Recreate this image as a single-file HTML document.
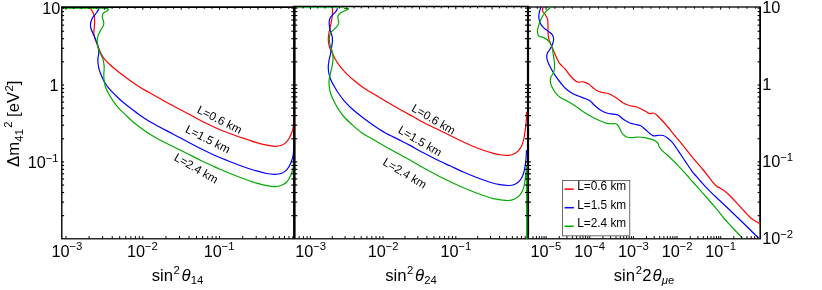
<!DOCTYPE html>
<html><head><meta charset="utf-8"><title>Sensitivity contours</title>
<style>
html,body{margin:0;padding:0;background:#fff;}
body{width:822px;height:290px;overflow:hidden;font-family:"Liberation Sans",sans-serif;}
svg text{font-family:"Liberation Sans",sans-serif;}
svg{will-change:transform;transform:translateZ(0);}
</style></head><body>
<svg width="822" height="290" viewBox="0 0 822 290" style="display:block" font-family="Liberation Sans, sans-serif" fill="#000">
<defs>
<clipPath id="c1"><rect x="61.80" y="7.05" width="232.80" height="231.65"/></clipPath>
<clipPath id="c2"><rect x="294.30" y="6.60" width="234.00" height="232.80"/></clipPath>
<clipPath id="c3"><rect x="528.00" y="6.10" width="232.90" height="233.30"/></clipPath>
</defs>
<line x1="61.10" y1="7.15" x2="294.30" y2="7.15" stroke="#000" stroke-width="1.60"/>
<line x1="293.20" y1="6.60" x2="529.10" y2="6.60" stroke="#000" stroke-width="1.50"/>
<line x1="528.00" y1="7.00" x2="760.90" y2="7.00" stroke="#222" stroke-width="1.35"/>
<line x1="61.10" y1="238.70" x2="760.95" y2="238.70" stroke="#2a2a2a" stroke-width="1.60"/>
<line x1="61.80" y1="7.05" x2="61.80" y2="238.70" stroke="#000" stroke-width="1.40"/>
<line x1="294.30" y1="6.60" x2="294.30" y2="238.70" stroke="#000" stroke-width="2.15"/>
<line x1="528.00" y1="6.60" x2="528.00" y2="238.70" stroke="#000" stroke-width="2.20"/>
<line x1="760.20" y1="7.00" x2="760.20" y2="238.70" stroke="#000" stroke-width="1.50"/>
<g clip-path="url(#c1)">
<path d="M90.30 8.30 C90.67 8.87 91.85 10.45 92.50 11.70 C93.15 12.95 93.83 14.13 94.20 15.80 C94.57 17.47 94.70 19.62 94.70 21.70 C94.70 23.78 94.35 26.37 94.20 28.30 C94.05 30.23 93.67 31.63 93.80 33.30 C93.93 34.97 94.47 36.48 95.00 38.30 C95.53 40.12 96.30 42.38 97.00 44.20 C97.70 46.02 98.57 47.73 99.20 49.20 C99.83 50.67 99.83 51.25 100.80 53.00 C101.77 54.75 103.18 57.48 105.00 59.70 C106.82 61.92 109.20 64.08 111.70 66.30 C114.20 68.52 116.95 70.63 120.00 73.00 C123.05 75.37 126.67 78.13 130.00 80.50 C133.33 82.87 136.67 85.12 140.00 87.20 C143.33 89.28 146.05 90.73 150.00 93.00 C153.95 95.27 159.25 98.35 163.70 100.80 C168.15 103.25 172.32 105.37 176.70 107.70 C181.08 110.03 185.00 112.17 190.00 114.80 C195.00 117.43 201.70 121.02 206.70 123.50 C211.70 125.98 215.57 127.83 220.00 129.70 C224.43 131.57 228.85 133.10 233.30 134.70 C237.75 136.30 242.80 137.97 246.70 139.30 C250.60 140.63 253.37 141.72 256.70 142.70 C260.03 143.68 263.65 144.60 266.70 145.20 C269.75 145.80 272.50 146.30 275.00 146.30 C277.50 146.30 279.75 145.95 281.70 145.20 C283.65 144.45 285.32 143.20 286.70 141.80 C288.08 140.40 289.12 138.47 290.00 136.80 C290.88 135.13 291.45 133.47 292.00 131.80 C292.55 130.13 292.97 129.10 293.30 126.80 C293.63 124.50 293.83 121.63 294.00 118.00 C294.17 114.37 294.25 107.17 294.30 105.00" fill="none" stroke="#ff0000" stroke-width="1.20" stroke-linejoin="round" stroke-linecap="butt"/>
<path d="M99.20 8.30 C98.78 9.00 97.68 11.10 96.70 12.50 C95.72 13.90 94.22 15.32 93.30 16.70 C92.38 18.08 91.67 19.42 91.20 20.80 C90.73 22.18 90.50 23.60 90.50 25.00 C90.50 26.40 90.73 27.67 91.20 29.20 C91.67 30.73 92.53 32.40 93.30 34.20 C94.07 36.00 95.02 38.07 95.80 40.00 C96.58 41.93 97.50 43.72 98.00 45.80 C98.50 47.88 98.80 50.47 98.80 52.50 C98.80 54.53 98.13 56.25 98.00 58.00 C97.87 59.75 97.80 61.05 98.00 63.00 C98.20 64.95 98.58 67.48 99.20 69.70 C99.82 71.92 100.73 74.08 101.70 76.30 C102.67 78.52 103.62 80.77 105.00 83.00 C106.38 85.23 108.20 87.62 110.00 89.70 C111.80 91.78 113.92 93.65 115.80 95.50 C117.68 97.35 118.93 98.77 121.30 100.80 C123.67 102.83 126.88 105.30 130.00 107.70 C133.12 110.10 136.67 112.85 140.00 115.20 C143.33 117.55 146.67 119.80 150.00 121.80 C153.33 123.80 156.12 125.13 160.00 127.20 C163.88 129.27 168.85 131.85 173.30 134.20 C177.75 136.55 182.25 138.95 186.70 141.30 C191.15 143.65 195.57 146.07 200.00 148.30 C204.43 150.53 208.85 152.70 213.30 154.70 C217.75 156.70 222.25 158.50 226.70 160.30 C231.15 162.10 235.57 163.88 240.00 165.50 C244.43 167.12 248.85 168.67 253.30 170.00 C257.75 171.33 263.08 172.78 266.70 173.50 C270.32 174.22 272.50 174.35 275.00 174.30 C277.50 174.25 279.75 173.95 281.70 173.20 C283.65 172.45 285.32 171.20 286.70 169.80 C288.08 168.40 289.08 166.60 290.00 164.80 C290.92 163.00 291.65 160.80 292.20 159.00 C292.75 157.20 293.03 156.33 293.30 154.00 C293.57 151.67 293.72 146.50 293.80 145.00" fill="none" stroke="#0000ff" stroke-width="1.20" stroke-linejoin="round" stroke-linecap="butt"/>
<path d="M104.00 8.40 C104.58 8.43 106.78 8.47 107.50 8.60 C108.22 8.73 108.30 8.83 108.30 9.20 C108.30 9.57 108.18 10.25 107.50 10.80 C106.82 11.35 105.03 11.80 104.20 12.50 C103.37 13.20 102.78 14.03 102.50 15.00 C102.22 15.97 102.30 17.18 102.50 18.30 C102.70 19.42 103.57 20.45 103.70 21.70 C103.83 22.95 103.78 24.42 103.30 25.80 C102.82 27.18 101.63 28.47 100.80 30.00 C99.97 31.53 98.90 33.33 98.30 35.00 C97.70 36.67 97.33 38.33 97.20 40.00 C97.07 41.67 97.25 43.33 97.50 45.00 C97.75 46.67 98.28 48.67 98.70 50.00 C99.12 51.33 99.37 51.67 100.00 53.00 C100.63 54.33 101.87 56.33 102.50 58.00 C103.13 59.67 103.52 61.33 103.80 63.00 C104.08 64.67 104.20 66.05 104.20 68.00 C104.20 69.95 103.80 72.48 103.80 74.70 C103.80 76.92 103.87 79.08 104.20 81.30 C104.53 83.52 105.05 85.92 105.80 88.00 C106.55 90.08 107.50 91.67 108.70 93.80 C109.90 95.93 111.40 98.48 113.00 100.80 C114.60 103.12 116.02 105.17 118.30 107.70 C120.58 110.23 123.92 113.37 126.70 116.00 C129.48 118.63 132.23 121.22 135.00 123.50 C137.77 125.78 140.25 127.57 143.30 129.70 C146.35 131.83 149.97 134.28 153.30 136.30 C156.63 138.32 159.97 140.07 163.30 141.80 C166.63 143.53 169.40 144.78 173.30 146.70 C177.20 148.62 182.25 151.08 186.70 153.30 C191.15 155.52 195.57 157.83 200.00 160.00 C204.43 162.17 209.97 164.75 213.30 166.30 C216.63 167.85 216.67 167.88 220.00 169.30 C223.33 170.72 228.85 173.05 233.30 174.80 C237.75 176.55 242.80 178.40 246.70 179.80 C250.60 181.20 253.37 182.22 256.70 183.20 C260.03 184.18 263.65 185.12 266.70 185.70 C269.75 186.28 272.50 186.77 275.00 186.70 C277.50 186.63 279.75 186.08 281.70 185.30 C283.65 184.52 285.32 183.38 286.70 182.00 C288.08 180.62 289.08 178.75 290.00 177.00 C290.92 175.25 291.65 173.12 292.20 171.50 C292.75 169.88 293.03 169.22 293.30 167.30 C293.57 165.38 293.72 161.22 293.80 160.00" fill="none" stroke="#00aa00" stroke-width="1.20" stroke-linejoin="round" stroke-linecap="butt"/>
<line x1="62.50" y1="8.40" x2="104.50" y2="8.40" stroke="#00aa00" stroke-width="0.90"/>
</g>
<line x1="294.30" y1="6.60" x2="294.30" y2="238.70" stroke="#000" stroke-width="2.15"/>
<g clip-path="url(#c2)">
<path d="M332.50 8.30 C332.50 9.13 332.63 11.35 332.50 13.30 C332.37 15.25 332.03 17.92 331.70 20.00 C331.37 22.08 330.92 23.85 330.50 25.80 C330.08 27.75 329.57 29.62 329.20 31.70 C328.83 33.78 328.37 36.22 328.30 38.30 C328.23 40.38 328.43 42.25 328.80 44.20 C329.17 46.15 329.88 48.45 330.50 50.00 C331.12 51.55 331.75 52.03 332.50 53.50 C333.25 54.97 333.75 56.67 335.00 58.80 C336.25 60.93 338.05 63.80 340.00 66.30 C341.95 68.80 344.20 71.30 346.70 73.80 C349.20 76.30 351.95 78.80 355.00 81.30 C358.05 83.80 361.67 86.57 365.00 88.80 C368.33 91.03 371.67 92.70 375.00 94.70 C378.33 96.70 381.12 98.50 385.00 100.80 C388.88 103.10 393.58 105.83 398.30 108.50 C403.02 111.17 408.52 114.17 413.30 116.80 C418.08 119.43 422.55 122.02 427.00 124.30 C431.45 126.58 435.05 128.08 440.00 130.50 C444.95 132.92 451.70 136.38 456.70 138.80 C461.70 141.22 465.57 143.08 470.00 145.00 C474.43 146.92 479.42 148.92 483.30 150.30 C487.18 151.68 490.23 152.52 493.30 153.30 C496.37 154.08 499.20 154.67 501.70 155.00 C504.20 155.33 506.37 155.43 508.30 155.30 C510.23 155.17 511.63 154.95 513.30 154.20 C514.97 153.45 516.90 152.20 518.30 150.80 C519.70 149.40 520.78 147.73 521.70 145.80 C522.62 143.87 523.25 141.55 523.80 139.20 C524.35 136.85 524.65 134.07 525.00 131.70 C525.35 129.33 525.66 127.45 525.90 125.00 C526.14 122.55 526.34 119.20 526.45 117.00 C526.56 114.80 526.53 112.67 526.55 111.80" fill="none" stroke="#ff0000" stroke-width="1.20" stroke-linejoin="round" stroke-linecap="butt"/>
<path d="M337.50 8.30 C337.22 8.87 336.63 10.58 335.80 11.70 C334.97 12.82 333.47 13.90 332.50 15.00 C331.53 16.10 330.55 17.18 330.00 18.30 C329.45 19.42 329.28 20.30 329.20 21.70 C329.12 23.10 329.28 25.03 329.50 26.70 C329.72 28.37 330.08 30.18 330.50 31.70 C330.92 33.22 331.67 34.28 332.00 35.80 C332.33 37.32 332.55 38.98 332.50 40.80 C332.45 42.62 331.98 44.75 331.70 46.70 C331.42 48.65 331.22 50.33 330.80 52.50 C330.38 54.67 329.62 57.40 329.20 59.70 C328.78 62.00 328.37 64.08 328.30 66.30 C328.23 68.52 328.38 70.77 328.80 73.00 C329.22 75.23 329.90 77.48 330.80 79.70 C331.70 81.92 332.95 84.08 334.20 86.30 C335.45 88.52 336.63 90.58 338.30 93.00 C339.97 95.42 341.97 98.22 344.20 100.80 C346.43 103.38 348.78 105.83 351.70 108.50 C354.62 111.17 358.10 114.02 361.70 116.80 C365.30 119.58 369.42 122.55 373.30 125.20 C377.18 127.85 380.83 130.33 385.00 132.70 C389.17 135.07 394.13 137.28 398.30 139.40 C402.47 141.52 405.83 143.17 410.00 145.40 C414.17 147.63 418.30 150.15 423.30 152.80 C428.30 155.45 435.55 159.13 440.00 161.30 C444.45 163.47 446.12 164.02 450.00 165.80 C453.88 167.58 458.85 170.05 463.30 172.00 C467.75 173.95 472.25 175.80 476.70 177.50 C481.15 179.20 486.12 181.00 490.00 182.20 C493.88 183.40 496.95 184.15 500.00 184.70 C503.05 185.25 505.80 185.58 508.30 185.50 C510.80 185.42 513.05 185.07 515.00 184.20 C516.95 183.33 518.67 181.83 520.00 180.30 C521.33 178.77 522.22 177.00 523.00 175.00 C523.78 173.00 524.22 170.80 524.70 168.30 C525.18 165.80 525.60 163.05 525.90 160.00 C526.20 156.95 526.40 151.67 526.50 150.00" fill="none" stroke="#0000ff" stroke-width="1.20" stroke-linejoin="round" stroke-linecap="butt"/>
<path d="M344.00 8.40 C344.58 8.42 346.78 8.40 347.50 8.50 C348.22 8.60 348.72 8.62 348.30 9.00 C347.88 9.38 346.38 10.08 345.00 10.80 C343.62 11.52 341.20 12.32 340.00 13.30 C338.80 14.28 338.08 15.58 337.80 16.70 C337.52 17.82 338.13 19.03 338.30 20.00 C338.47 20.97 338.93 21.53 338.80 22.50 C338.67 23.47 338.27 24.68 337.50 25.80 C336.73 26.92 335.32 28.08 334.20 29.20 C333.08 30.32 331.58 31.25 330.80 32.50 C330.02 33.75 329.72 35.17 329.50 36.70 C329.28 38.23 329.28 39.90 329.50 41.70 C329.72 43.50 330.30 45.70 330.80 47.50 C331.30 49.30 332.13 50.47 332.50 52.50 C332.87 54.53 333.08 57.40 333.00 59.70 C332.92 62.00 332.42 64.08 332.00 66.30 C331.58 68.52 330.97 70.77 330.50 73.00 C330.03 75.23 329.42 77.48 329.20 79.70 C328.98 81.92 328.98 84.08 329.20 86.30 C329.42 88.52 329.75 90.58 330.50 93.00 C331.25 95.42 332.53 98.35 333.70 100.80 C334.87 103.25 335.90 105.17 337.50 107.70 C339.10 110.23 340.93 113.23 343.30 116.00 C345.67 118.77 348.63 121.52 351.70 124.30 C354.77 127.08 357.90 130.05 361.70 132.70 C365.50 135.35 370.78 138.03 374.50 140.20 C378.22 142.37 381.42 144.20 384.00 145.70 C386.58 147.20 386.22 147.10 390.00 149.20 C393.78 151.30 401.15 155.20 406.70 158.30 C412.25 161.40 417.75 164.73 423.30 167.80 C428.85 170.87 434.43 173.88 440.00 176.70 C445.57 179.52 451.70 182.40 456.70 184.70 C461.70 187.00 465.57 188.70 470.00 190.50 C474.43 192.30 479.42 194.13 483.30 195.50 C487.18 196.87 490.23 197.95 493.30 198.70 C496.37 199.45 499.20 199.70 501.70 200.00 C504.20 200.30 506.22 200.63 508.30 200.50 C510.38 200.37 512.38 199.98 514.20 199.20 C516.02 198.42 517.82 197.20 519.20 195.80 C520.58 194.40 521.65 192.60 522.50 190.80 C523.35 189.00 523.80 187.35 524.30 185.00 C524.80 182.65 525.13 179.53 525.50 176.70 C525.87 173.87 526.33 169.45 526.50 168.00" fill="none" stroke="#00aa00" stroke-width="1.20" stroke-linejoin="round" stroke-linecap="butt"/>
<line x1="295.40" y1="7.65" x2="344.50" y2="7.65" stroke="#00aa00" stroke-width="0.80"/>
<line x1="526.80" y1="166.00" x2="526.80" y2="239.40" stroke="#00aa00" stroke-width="1.40"/>
</g>
<g clip-path="url(#c3)">
<path d="M543.00 7.00 C542.92 7.63 542.17 9.60 542.50 10.80 C542.83 12.00 544.17 12.80 545.00 14.20 C545.83 15.60 547.00 17.40 547.50 19.20 C548.00 21.00 547.92 22.92 548.00 25.00 C548.08 27.08 547.88 29.48 548.00 31.70 C548.12 33.92 548.23 36.22 548.70 38.30 C549.17 40.38 550.08 42.38 550.80 44.20 C551.52 46.02 552.38 47.73 553.00 49.20 C553.62 50.67 553.88 51.53 554.50 53.00 C555.12 54.47 555.78 56.20 556.70 58.00 C557.62 59.80 558.62 62.00 560.00 63.80 C561.38 65.60 563.33 66.85 565.00 68.80 C566.67 70.75 568.33 73.55 570.00 75.50 C571.67 77.45 573.62 79.38 575.00 80.50 C576.38 81.62 576.92 81.98 578.30 82.20 C579.68 82.42 581.63 81.53 583.30 81.80 C584.97 82.07 586.63 82.77 588.30 83.80 C589.97 84.83 591.63 86.75 593.30 88.00 C594.97 89.25 596.63 90.52 598.30 91.30 C599.97 92.08 601.63 92.33 603.30 92.70 C604.97 93.07 606.63 92.95 608.30 93.50 C609.97 94.05 611.63 95.05 613.30 96.00 C614.97 96.95 616.63 98.03 618.30 99.20 C619.97 100.37 621.35 101.90 623.30 103.00 C625.25 104.10 627.77 105.13 630.00 105.80 C632.23 106.47 634.75 106.43 636.70 107.00 C638.65 107.57 640.03 108.37 641.70 109.20 C643.37 110.03 645.32 111.25 646.70 112.00 C648.08 112.75 648.90 113.53 650.00 113.70 C651.10 113.87 652.18 112.78 653.30 113.00 C654.42 113.22 655.30 113.83 656.70 115.00 C658.10 116.17 659.77 117.92 661.70 120.00 C663.63 122.08 666.08 124.87 668.30 127.50 C670.52 130.13 672.50 132.75 675.00 135.80 C677.50 138.85 680.25 142.05 683.30 145.80 C686.35 149.55 689.97 154.27 693.30 158.30 C696.63 162.33 700.23 166.25 703.30 170.00 C706.37 173.75 709.47 178.08 711.70 180.80 C713.93 183.52 715.32 185.10 716.70 186.30 C718.08 187.50 718.62 187.17 720.00 188.00 C721.38 188.83 723.05 189.72 725.00 191.30 C726.95 192.88 729.48 195.27 731.70 197.50 C733.92 199.73 736.08 202.28 738.30 204.70 C740.52 207.12 742.92 209.78 745.00 212.00 C747.08 214.22 749.00 216.45 750.80 218.00 C752.60 219.55 754.55 220.50 755.80 221.30 C757.05 222.10 757.57 222.27 758.30 222.80 C759.03 223.33 759.88 224.22 760.20 224.50" fill="none" stroke="#ff0000" stroke-width="1.20" stroke-linejoin="round" stroke-linecap="butt"/>
<path d="M540.80 7.00 C540.58 7.78 539.83 10.08 539.50 11.70 C539.17 13.32 538.77 15.03 538.80 16.70 C538.83 18.37 539.08 20.03 539.70 21.70 C540.32 23.37 541.20 25.18 542.50 26.70 C543.80 28.22 545.88 29.47 547.50 30.80 C549.12 32.13 551.17 33.30 552.20 34.70 C553.23 36.10 553.65 37.62 553.70 39.20 C553.75 40.78 553.12 42.53 552.50 44.20 C551.88 45.87 550.83 47.77 550.00 49.20 C549.17 50.63 548.05 51.47 547.50 52.80 C546.95 54.13 546.57 55.50 546.70 57.20 C546.83 58.90 547.47 60.92 548.30 63.00 C549.13 65.08 550.45 67.48 551.70 69.70 C552.95 71.92 554.28 74.08 555.80 76.30 C557.32 78.52 559.13 80.92 560.80 83.00 C562.47 85.08 563.98 87.13 565.80 88.80 C567.62 90.47 569.62 91.80 571.70 93.00 C573.78 94.20 576.08 95.08 578.30 96.00 C580.52 96.92 583.05 97.70 585.00 98.50 C586.95 99.30 588.47 99.72 590.00 100.80 C591.53 101.88 592.53 103.52 594.20 105.00 C595.87 106.48 597.92 108.37 600.00 109.70 C602.08 111.03 604.48 112.25 606.70 113.00 C608.92 113.75 611.37 113.82 613.30 114.20 C615.23 114.58 616.63 114.47 618.30 115.30 C619.97 116.13 621.35 117.92 623.30 119.20 C625.25 120.48 627.77 122.08 630.00 123.00 C632.23 123.92 634.90 124.23 636.70 124.70 C638.50 125.17 639.42 125.05 640.80 125.80 C642.18 126.55 643.47 127.88 645.00 129.20 C646.53 130.52 648.62 132.60 650.00 133.70 C651.38 134.80 651.92 135.53 653.30 135.80 C654.68 136.07 656.63 135.35 658.30 135.30 C659.97 135.25 661.77 135.05 663.30 135.50 C664.83 135.95 665.97 136.82 667.50 138.00 C669.03 139.18 670.70 140.47 672.50 142.60 C674.30 144.73 676.22 147.77 678.30 150.80 C680.38 153.83 682.77 157.47 685.00 160.80 C687.23 164.13 689.75 168.15 691.70 170.80 C693.65 173.45 695.03 174.75 696.70 176.70 C698.37 178.65 699.48 180.07 701.70 182.50 C703.92 184.93 706.95 188.25 710.00 191.30 C713.05 194.35 716.67 197.63 720.00 200.80 C723.33 203.97 726.95 207.38 730.00 210.30 C733.05 213.22 736.13 216.22 738.30 218.30 C740.47 220.38 739.60 219.47 743.00 222.80 C746.40 226.13 756.08 235.72 758.70 238.30" fill="none" stroke="#0000ff" stroke-width="1.20" stroke-linejoin="round" stroke-linecap="butt"/>
<path d="M550.80 7.00 C550.12 7.63 547.95 9.47 546.70 10.80 C545.45 12.13 544.37 13.33 543.30 15.00 C542.23 16.67 541.13 18.85 540.30 20.80 C539.47 22.75 538.77 24.88 538.30 26.70 C537.83 28.52 537.43 30.18 537.50 31.70 C537.57 33.22 537.73 34.83 538.70 35.80 C539.67 36.77 541.83 36.80 543.30 37.50 C544.77 38.20 546.25 38.88 547.50 40.00 C548.75 41.12 549.97 42.67 550.80 44.20 C551.63 45.73 552.13 47.73 552.50 49.20 C552.87 50.67 552.78 51.53 553.00 53.00 C553.22 54.47 553.55 56.33 553.80 58.00 C554.05 59.67 554.38 61.20 554.50 63.00 C554.62 64.80 554.70 67.13 554.50 68.80 C554.30 70.47 553.92 71.60 553.30 73.00 C552.68 74.40 551.30 75.82 550.80 77.20 C550.30 78.58 550.15 79.78 550.30 81.30 C550.45 82.82 550.92 84.48 551.70 86.30 C552.48 88.12 553.62 90.37 555.00 92.20 C556.38 94.03 558.05 95.87 560.00 97.30 C561.95 98.73 564.20 99.38 566.70 100.80 C569.20 102.22 572.23 103.98 575.00 105.80 C577.77 107.62 580.52 109.88 583.30 111.70 C586.08 113.52 588.92 115.18 591.70 116.70 C594.48 118.22 597.50 119.70 600.00 120.80 C602.50 121.90 604.75 122.80 606.70 123.30 C608.65 123.80 610.18 123.73 611.70 123.80 C613.22 123.87 614.70 123.37 615.80 123.70 C616.90 124.03 617.47 124.62 618.30 125.80 C619.13 126.98 619.97 129.32 620.80 130.80 C621.63 132.28 622.32 133.67 623.30 134.70 C624.28 135.73 625.30 136.52 626.70 137.00 C628.10 137.48 629.77 137.60 631.70 137.60 C633.63 137.60 636.08 137.00 638.30 137.00 C640.52 137.00 642.77 137.20 645.00 137.60 C647.23 138.00 650.03 138.87 651.70 139.40 C653.37 139.93 653.95 140.15 655.00 140.80 C656.05 141.45 657.30 142.32 658.00 143.30 C658.70 144.28 658.45 145.45 659.20 146.70 C659.95 147.95 660.70 149.00 662.50 150.80 C664.30 152.60 667.37 155.00 670.00 157.50 C672.63 160.00 675.52 162.88 678.30 165.80 C681.08 168.72 684.20 172.22 686.70 175.00 C689.20 177.78 689.97 178.75 693.30 182.50 C696.63 186.25 702.80 193.05 706.70 197.50 C710.60 201.95 713.93 205.87 716.70 209.20 C719.47 212.53 721.42 215.23 723.30 217.50 C725.18 219.77 724.78 219.33 728.00 222.80 C731.22 226.27 740.17 235.72 742.60 238.30" fill="none" stroke="#00aa00" stroke-width="1.20" stroke-linejoin="round" stroke-linecap="butt"/>
</g>
<line x1="760.20" y1="7.00" x2="760.20" y2="222.00" stroke="#000" stroke-width="1.50"/>
<line x1="61.80" y1="215.65" x2="64.10" y2="215.65" stroke="#000" stroke-width="1.15"/>
<line x1="61.80" y1="202.11" x2="64.10" y2="202.11" stroke="#000" stroke-width="1.15"/>
<line x1="61.80" y1="192.50" x2="64.10" y2="192.50" stroke="#000" stroke-width="1.15"/>
<line x1="61.80" y1="185.05" x2="64.10" y2="185.05" stroke="#000" stroke-width="1.15"/>
<line x1="61.80" y1="178.96" x2="64.10" y2="178.96" stroke="#000" stroke-width="1.15"/>
<line x1="61.80" y1="173.81" x2="64.10" y2="173.81" stroke="#000" stroke-width="1.15"/>
<line x1="61.80" y1="169.35" x2="64.10" y2="169.35" stroke="#000" stroke-width="1.15"/>
<line x1="61.80" y1="165.42" x2="64.10" y2="165.42" stroke="#000" stroke-width="1.15"/>
<line x1="61.80" y1="161.90" x2="64.10" y2="161.90" stroke="#000" stroke-width="1.15"/>
<line x1="61.80" y1="138.75" x2="64.10" y2="138.75" stroke="#000" stroke-width="1.15"/>
<line x1="61.80" y1="125.21" x2="64.10" y2="125.21" stroke="#000" stroke-width="1.15"/>
<line x1="61.80" y1="115.60" x2="64.10" y2="115.60" stroke="#000" stroke-width="1.15"/>
<line x1="61.80" y1="108.15" x2="64.10" y2="108.15" stroke="#000" stroke-width="1.15"/>
<line x1="61.80" y1="102.06" x2="64.10" y2="102.06" stroke="#000" stroke-width="1.15"/>
<line x1="61.80" y1="96.91" x2="64.10" y2="96.91" stroke="#000" stroke-width="1.15"/>
<line x1="61.80" y1="92.45" x2="64.10" y2="92.45" stroke="#000" stroke-width="1.15"/>
<line x1="61.80" y1="88.52" x2="64.10" y2="88.52" stroke="#000" stroke-width="1.15"/>
<line x1="61.80" y1="85.00" x2="64.10" y2="85.00" stroke="#000" stroke-width="1.15"/>
<line x1="61.80" y1="61.85" x2="64.10" y2="61.85" stroke="#000" stroke-width="1.15"/>
<line x1="61.80" y1="48.31" x2="64.10" y2="48.31" stroke="#000" stroke-width="1.15"/>
<line x1="61.80" y1="38.70" x2="64.10" y2="38.70" stroke="#000" stroke-width="1.15"/>
<line x1="61.80" y1="31.25" x2="64.10" y2="31.25" stroke="#000" stroke-width="1.15"/>
<line x1="61.80" y1="25.16" x2="64.10" y2="25.16" stroke="#000" stroke-width="1.15"/>
<line x1="61.80" y1="20.01" x2="64.10" y2="20.01" stroke="#000" stroke-width="1.15"/>
<line x1="61.80" y1="15.55" x2="64.10" y2="15.55" stroke="#000" stroke-width="1.15"/>
<line x1="61.80" y1="11.62" x2="64.10" y2="11.62" stroke="#000" stroke-width="1.15"/>
<line x1="61.80" y1="8.10" x2="64.10" y2="8.10" stroke="#000" stroke-width="1.15"/>
<line x1="294.30" y1="215.65" x2="291.30" y2="215.65" stroke="#000" stroke-width="1.15"/>
<line x1="294.30" y1="202.11" x2="291.30" y2="202.11" stroke="#000" stroke-width="1.15"/>
<line x1="294.30" y1="192.50" x2="291.30" y2="192.50" stroke="#000" stroke-width="1.15"/>
<line x1="294.30" y1="185.05" x2="291.30" y2="185.05" stroke="#000" stroke-width="1.15"/>
<line x1="294.30" y1="178.96" x2="291.30" y2="178.96" stroke="#000" stroke-width="1.15"/>
<line x1="294.30" y1="173.81" x2="291.30" y2="173.81" stroke="#000" stroke-width="1.15"/>
<line x1="294.30" y1="169.35" x2="291.30" y2="169.35" stroke="#000" stroke-width="1.15"/>
<line x1="294.30" y1="165.42" x2="291.30" y2="165.42" stroke="#000" stroke-width="1.15"/>
<line x1="294.30" y1="161.90" x2="291.30" y2="161.90" stroke="#000" stroke-width="1.15"/>
<line x1="294.30" y1="138.75" x2="291.30" y2="138.75" stroke="#000" stroke-width="1.15"/>
<line x1="294.30" y1="125.21" x2="291.30" y2="125.21" stroke="#000" stroke-width="1.15"/>
<line x1="294.30" y1="115.60" x2="291.30" y2="115.60" stroke="#000" stroke-width="1.15"/>
<line x1="294.30" y1="108.15" x2="291.30" y2="108.15" stroke="#000" stroke-width="1.15"/>
<line x1="294.30" y1="102.06" x2="291.30" y2="102.06" stroke="#000" stroke-width="1.15"/>
<line x1="294.30" y1="96.91" x2="291.30" y2="96.91" stroke="#000" stroke-width="1.15"/>
<line x1="294.30" y1="92.45" x2="291.30" y2="92.45" stroke="#000" stroke-width="1.15"/>
<line x1="294.30" y1="88.52" x2="291.30" y2="88.52" stroke="#000" stroke-width="1.15"/>
<line x1="294.30" y1="85.00" x2="291.30" y2="85.00" stroke="#000" stroke-width="1.15"/>
<line x1="294.30" y1="61.85" x2="291.30" y2="61.85" stroke="#000" stroke-width="1.15"/>
<line x1="294.30" y1="48.31" x2="291.30" y2="48.31" stroke="#000" stroke-width="1.15"/>
<line x1="294.30" y1="38.70" x2="291.30" y2="38.70" stroke="#000" stroke-width="1.15"/>
<line x1="294.30" y1="31.25" x2="291.30" y2="31.25" stroke="#000" stroke-width="1.15"/>
<line x1="294.30" y1="25.16" x2="291.30" y2="25.16" stroke="#000" stroke-width="1.15"/>
<line x1="294.30" y1="20.01" x2="291.30" y2="20.01" stroke="#000" stroke-width="1.15"/>
<line x1="294.30" y1="15.55" x2="291.30" y2="15.55" stroke="#000" stroke-width="1.15"/>
<line x1="294.30" y1="11.62" x2="291.30" y2="11.62" stroke="#000" stroke-width="1.15"/>
<line x1="294.30" y1="8.10" x2="291.30" y2="8.10" stroke="#000" stroke-width="1.15"/>
<line x1="294.30" y1="215.65" x2="297.30" y2="215.65" stroke="#000" stroke-width="1.15"/>
<line x1="294.30" y1="202.11" x2="297.30" y2="202.11" stroke="#000" stroke-width="1.15"/>
<line x1="294.30" y1="192.50" x2="297.30" y2="192.50" stroke="#000" stroke-width="1.15"/>
<line x1="294.30" y1="185.05" x2="297.30" y2="185.05" stroke="#000" stroke-width="1.15"/>
<line x1="294.30" y1="178.96" x2="297.30" y2="178.96" stroke="#000" stroke-width="1.15"/>
<line x1="294.30" y1="173.81" x2="297.30" y2="173.81" stroke="#000" stroke-width="1.15"/>
<line x1="294.30" y1="169.35" x2="297.30" y2="169.35" stroke="#000" stroke-width="1.15"/>
<line x1="294.30" y1="165.42" x2="297.30" y2="165.42" stroke="#000" stroke-width="1.15"/>
<line x1="294.30" y1="161.90" x2="297.30" y2="161.90" stroke="#000" stroke-width="1.15"/>
<line x1="294.30" y1="138.75" x2="297.30" y2="138.75" stroke="#000" stroke-width="1.15"/>
<line x1="294.30" y1="125.21" x2="297.30" y2="125.21" stroke="#000" stroke-width="1.15"/>
<line x1="294.30" y1="115.60" x2="297.30" y2="115.60" stroke="#000" stroke-width="1.15"/>
<line x1="294.30" y1="108.15" x2="297.30" y2="108.15" stroke="#000" stroke-width="1.15"/>
<line x1="294.30" y1="102.06" x2="297.30" y2="102.06" stroke="#000" stroke-width="1.15"/>
<line x1="294.30" y1="96.91" x2="297.30" y2="96.91" stroke="#000" stroke-width="1.15"/>
<line x1="294.30" y1="92.45" x2="297.30" y2="92.45" stroke="#000" stroke-width="1.15"/>
<line x1="294.30" y1="88.52" x2="297.30" y2="88.52" stroke="#000" stroke-width="1.15"/>
<line x1="294.30" y1="85.00" x2="297.30" y2="85.00" stroke="#000" stroke-width="1.15"/>
<line x1="294.30" y1="61.85" x2="297.30" y2="61.85" stroke="#000" stroke-width="1.15"/>
<line x1="294.30" y1="48.31" x2="297.30" y2="48.31" stroke="#000" stroke-width="1.15"/>
<line x1="294.30" y1="38.70" x2="297.30" y2="38.70" stroke="#000" stroke-width="1.15"/>
<line x1="294.30" y1="31.25" x2="297.30" y2="31.25" stroke="#000" stroke-width="1.15"/>
<line x1="294.30" y1="25.16" x2="297.30" y2="25.16" stroke="#000" stroke-width="1.15"/>
<line x1="294.30" y1="20.01" x2="297.30" y2="20.01" stroke="#000" stroke-width="1.15"/>
<line x1="294.30" y1="15.55" x2="297.30" y2="15.55" stroke="#000" stroke-width="1.15"/>
<line x1="294.30" y1="11.62" x2="297.30" y2="11.62" stroke="#000" stroke-width="1.15"/>
<line x1="294.30" y1="8.10" x2="297.30" y2="8.10" stroke="#000" stroke-width="1.15"/>
<line x1="528.00" y1="215.65" x2="525.00" y2="215.65" stroke="#000" stroke-width="1.15"/>
<line x1="528.00" y1="202.11" x2="525.00" y2="202.11" stroke="#000" stroke-width="1.15"/>
<line x1="528.00" y1="192.50" x2="525.00" y2="192.50" stroke="#000" stroke-width="1.15"/>
<line x1="528.00" y1="185.05" x2="525.00" y2="185.05" stroke="#000" stroke-width="1.15"/>
<line x1="528.00" y1="178.96" x2="525.00" y2="178.96" stroke="#000" stroke-width="1.15"/>
<line x1="528.00" y1="173.81" x2="525.00" y2="173.81" stroke="#000" stroke-width="1.15"/>
<line x1="528.00" y1="169.35" x2="525.00" y2="169.35" stroke="#000" stroke-width="1.15"/>
<line x1="528.00" y1="165.42" x2="525.00" y2="165.42" stroke="#000" stroke-width="1.15"/>
<line x1="528.00" y1="161.90" x2="525.00" y2="161.90" stroke="#000" stroke-width="1.15"/>
<line x1="528.00" y1="138.75" x2="525.00" y2="138.75" stroke="#000" stroke-width="1.15"/>
<line x1="528.00" y1="125.21" x2="525.00" y2="125.21" stroke="#000" stroke-width="1.15"/>
<line x1="528.00" y1="115.60" x2="525.00" y2="115.60" stroke="#000" stroke-width="1.15"/>
<line x1="528.00" y1="108.15" x2="525.00" y2="108.15" stroke="#000" stroke-width="1.15"/>
<line x1="528.00" y1="102.06" x2="525.00" y2="102.06" stroke="#000" stroke-width="1.15"/>
<line x1="528.00" y1="96.91" x2="525.00" y2="96.91" stroke="#000" stroke-width="1.15"/>
<line x1="528.00" y1="92.45" x2="525.00" y2="92.45" stroke="#000" stroke-width="1.15"/>
<line x1="528.00" y1="88.52" x2="525.00" y2="88.52" stroke="#000" stroke-width="1.15"/>
<line x1="528.00" y1="85.00" x2="525.00" y2="85.00" stroke="#000" stroke-width="1.15"/>
<line x1="528.00" y1="61.85" x2="525.00" y2="61.85" stroke="#000" stroke-width="1.15"/>
<line x1="528.00" y1="48.31" x2="525.00" y2="48.31" stroke="#000" stroke-width="1.15"/>
<line x1="528.00" y1="38.70" x2="525.00" y2="38.70" stroke="#000" stroke-width="1.15"/>
<line x1="528.00" y1="31.25" x2="525.00" y2="31.25" stroke="#000" stroke-width="1.15"/>
<line x1="528.00" y1="25.16" x2="525.00" y2="25.16" stroke="#000" stroke-width="1.15"/>
<line x1="528.00" y1="20.01" x2="525.00" y2="20.01" stroke="#000" stroke-width="1.15"/>
<line x1="528.00" y1="15.55" x2="525.00" y2="15.55" stroke="#000" stroke-width="1.15"/>
<line x1="528.00" y1="11.62" x2="525.00" y2="11.62" stroke="#000" stroke-width="1.15"/>
<line x1="528.00" y1="8.10" x2="525.00" y2="8.10" stroke="#000" stroke-width="1.15"/>
<line x1="528.00" y1="215.65" x2="531.00" y2="215.65" stroke="#000" stroke-width="1.15"/>
<line x1="528.00" y1="202.11" x2="531.00" y2="202.11" stroke="#000" stroke-width="1.15"/>
<line x1="528.00" y1="192.50" x2="531.00" y2="192.50" stroke="#000" stroke-width="1.15"/>
<line x1="528.00" y1="185.05" x2="531.00" y2="185.05" stroke="#000" stroke-width="1.15"/>
<line x1="528.00" y1="178.96" x2="531.00" y2="178.96" stroke="#000" stroke-width="1.15"/>
<line x1="528.00" y1="173.81" x2="531.00" y2="173.81" stroke="#000" stroke-width="1.15"/>
<line x1="528.00" y1="169.35" x2="531.00" y2="169.35" stroke="#000" stroke-width="1.15"/>
<line x1="528.00" y1="165.42" x2="531.00" y2="165.42" stroke="#000" stroke-width="1.15"/>
<line x1="528.00" y1="161.90" x2="531.00" y2="161.90" stroke="#000" stroke-width="1.15"/>
<line x1="528.00" y1="138.75" x2="531.00" y2="138.75" stroke="#000" stroke-width="1.15"/>
<line x1="528.00" y1="125.21" x2="531.00" y2="125.21" stroke="#000" stroke-width="1.15"/>
<line x1="528.00" y1="115.60" x2="531.00" y2="115.60" stroke="#000" stroke-width="1.15"/>
<line x1="528.00" y1="108.15" x2="531.00" y2="108.15" stroke="#000" stroke-width="1.15"/>
<line x1="528.00" y1="102.06" x2="531.00" y2="102.06" stroke="#000" stroke-width="1.15"/>
<line x1="528.00" y1="96.91" x2="531.00" y2="96.91" stroke="#000" stroke-width="1.15"/>
<line x1="528.00" y1="92.45" x2="531.00" y2="92.45" stroke="#000" stroke-width="1.15"/>
<line x1="528.00" y1="88.52" x2="531.00" y2="88.52" stroke="#000" stroke-width="1.15"/>
<line x1="528.00" y1="85.00" x2="531.00" y2="85.00" stroke="#000" stroke-width="1.15"/>
<line x1="528.00" y1="61.85" x2="531.00" y2="61.85" stroke="#000" stroke-width="1.15"/>
<line x1="528.00" y1="48.31" x2="531.00" y2="48.31" stroke="#000" stroke-width="1.15"/>
<line x1="528.00" y1="38.70" x2="531.00" y2="38.70" stroke="#000" stroke-width="1.15"/>
<line x1="528.00" y1="31.25" x2="531.00" y2="31.25" stroke="#000" stroke-width="1.15"/>
<line x1="528.00" y1="25.16" x2="531.00" y2="25.16" stroke="#000" stroke-width="1.15"/>
<line x1="528.00" y1="20.01" x2="531.00" y2="20.01" stroke="#000" stroke-width="1.15"/>
<line x1="528.00" y1="15.55" x2="531.00" y2="15.55" stroke="#000" stroke-width="1.15"/>
<line x1="528.00" y1="11.62" x2="531.00" y2="11.62" stroke="#000" stroke-width="1.15"/>
<line x1="528.00" y1="8.10" x2="531.00" y2="8.10" stroke="#000" stroke-width="1.15"/>
<line x1="760.20" y1="215.65" x2="757.60" y2="215.65" stroke="#000" stroke-width="1.15"/>
<line x1="760.20" y1="202.11" x2="757.60" y2="202.11" stroke="#000" stroke-width="1.15"/>
<line x1="760.20" y1="192.50" x2="757.60" y2="192.50" stroke="#000" stroke-width="1.15"/>
<line x1="760.20" y1="185.05" x2="757.60" y2="185.05" stroke="#000" stroke-width="1.15"/>
<line x1="760.20" y1="178.96" x2="757.60" y2="178.96" stroke="#000" stroke-width="1.15"/>
<line x1="760.20" y1="173.81" x2="757.60" y2="173.81" stroke="#000" stroke-width="1.15"/>
<line x1="760.20" y1="169.35" x2="757.60" y2="169.35" stroke="#000" stroke-width="1.15"/>
<line x1="760.20" y1="165.42" x2="757.60" y2="165.42" stroke="#000" stroke-width="1.15"/>
<line x1="760.20" y1="161.90" x2="757.60" y2="161.90" stroke="#000" stroke-width="1.15"/>
<line x1="760.20" y1="138.75" x2="757.60" y2="138.75" stroke="#000" stroke-width="1.15"/>
<line x1="760.20" y1="125.21" x2="757.60" y2="125.21" stroke="#000" stroke-width="1.15"/>
<line x1="760.20" y1="115.60" x2="757.60" y2="115.60" stroke="#000" stroke-width="1.15"/>
<line x1="760.20" y1="108.15" x2="757.60" y2="108.15" stroke="#000" stroke-width="1.15"/>
<line x1="760.20" y1="102.06" x2="757.60" y2="102.06" stroke="#000" stroke-width="1.15"/>
<line x1="760.20" y1="96.91" x2="757.60" y2="96.91" stroke="#000" stroke-width="1.15"/>
<line x1="760.20" y1="92.45" x2="757.60" y2="92.45" stroke="#000" stroke-width="1.15"/>
<line x1="760.20" y1="88.52" x2="757.60" y2="88.52" stroke="#000" stroke-width="1.15"/>
<line x1="760.20" y1="85.00" x2="757.60" y2="85.00" stroke="#000" stroke-width="1.15"/>
<line x1="760.20" y1="61.85" x2="757.60" y2="61.85" stroke="#000" stroke-width="1.15"/>
<line x1="760.20" y1="48.31" x2="757.60" y2="48.31" stroke="#000" stroke-width="1.15"/>
<line x1="760.20" y1="38.70" x2="757.60" y2="38.70" stroke="#000" stroke-width="1.15"/>
<line x1="760.20" y1="31.25" x2="757.60" y2="31.25" stroke="#000" stroke-width="1.15"/>
<line x1="760.20" y1="25.16" x2="757.60" y2="25.16" stroke="#000" stroke-width="1.15"/>
<line x1="760.20" y1="20.01" x2="757.60" y2="20.01" stroke="#000" stroke-width="1.15"/>
<line x1="760.20" y1="15.55" x2="757.60" y2="15.55" stroke="#000" stroke-width="1.15"/>
<line x1="760.20" y1="11.62" x2="757.60" y2="11.62" stroke="#000" stroke-width="1.15"/>
<line x1="760.20" y1="8.10" x2="757.60" y2="8.10" stroke="#000" stroke-width="1.15"/>
<line x1="66.00" y1="238.70" x2="66.00" y2="236.10" stroke="#000" stroke-width="1.00"/>
<line x1="89.12" y1="238.70" x2="89.12" y2="236.10" stroke="#000" stroke-width="1.00"/>
<line x1="102.64" y1="238.70" x2="102.64" y2="236.10" stroke="#000" stroke-width="1.00"/>
<line x1="112.24" y1="238.70" x2="112.24" y2="236.10" stroke="#000" stroke-width="1.00"/>
<line x1="119.68" y1="238.70" x2="119.68" y2="236.10" stroke="#000" stroke-width="1.00"/>
<line x1="125.76" y1="238.70" x2="125.76" y2="236.10" stroke="#000" stroke-width="1.00"/>
<line x1="130.90" y1="238.70" x2="130.90" y2="236.10" stroke="#000" stroke-width="1.00"/>
<line x1="135.36" y1="238.70" x2="135.36" y2="236.10" stroke="#000" stroke-width="1.00"/>
<line x1="139.29" y1="238.70" x2="139.29" y2="236.10" stroke="#000" stroke-width="1.00"/>
<line x1="142.80" y1="238.70" x2="142.80" y2="236.10" stroke="#000" stroke-width="1.00"/>
<line x1="165.92" y1="238.70" x2="165.92" y2="236.10" stroke="#000" stroke-width="1.00"/>
<line x1="179.44" y1="238.70" x2="179.44" y2="236.10" stroke="#000" stroke-width="1.00"/>
<line x1="189.04" y1="238.70" x2="189.04" y2="236.10" stroke="#000" stroke-width="1.00"/>
<line x1="196.48" y1="238.70" x2="196.48" y2="236.10" stroke="#000" stroke-width="1.00"/>
<line x1="202.56" y1="238.70" x2="202.56" y2="236.10" stroke="#000" stroke-width="1.00"/>
<line x1="207.70" y1="238.70" x2="207.70" y2="236.10" stroke="#000" stroke-width="1.00"/>
<line x1="212.16" y1="238.70" x2="212.16" y2="236.10" stroke="#000" stroke-width="1.00"/>
<line x1="216.09" y1="238.70" x2="216.09" y2="236.10" stroke="#000" stroke-width="1.00"/>
<line x1="219.60" y1="238.70" x2="219.60" y2="236.10" stroke="#000" stroke-width="1.00"/>
<line x1="242.72" y1="238.70" x2="242.72" y2="236.10" stroke="#000" stroke-width="1.00"/>
<line x1="256.24" y1="238.70" x2="256.24" y2="236.10" stroke="#000" stroke-width="1.00"/>
<line x1="265.84" y1="238.70" x2="265.84" y2="236.10" stroke="#000" stroke-width="1.00"/>
<line x1="273.28" y1="238.70" x2="273.28" y2="236.10" stroke="#000" stroke-width="1.00"/>
<line x1="279.36" y1="238.70" x2="279.36" y2="236.10" stroke="#000" stroke-width="1.00"/>
<line x1="284.50" y1="238.70" x2="284.50" y2="236.10" stroke="#000" stroke-width="1.00"/>
<line x1="288.96" y1="238.70" x2="288.96" y2="236.10" stroke="#000" stroke-width="1.00"/>
<line x1="292.89" y1="238.70" x2="292.89" y2="236.10" stroke="#000" stroke-width="1.00"/>
<line x1="299.14" y1="238.70" x2="299.14" y2="236.10" stroke="#000" stroke-width="1.00"/>
<line x1="303.35" y1="238.70" x2="303.35" y2="236.10" stroke="#000" stroke-width="1.00"/>
<line x1="307.07" y1="238.70" x2="307.07" y2="236.10" stroke="#000" stroke-width="1.00"/>
<line x1="310.40" y1="238.70" x2="310.40" y2="236.10" stroke="#000" stroke-width="1.00"/>
<line x1="332.28" y1="238.70" x2="332.28" y2="236.10" stroke="#000" stroke-width="1.00"/>
<line x1="345.09" y1="238.70" x2="345.09" y2="236.10" stroke="#000" stroke-width="1.00"/>
<line x1="354.17" y1="238.70" x2="354.17" y2="236.10" stroke="#000" stroke-width="1.00"/>
<line x1="361.22" y1="238.70" x2="361.22" y2="236.10" stroke="#000" stroke-width="1.00"/>
<line x1="366.97" y1="238.70" x2="366.97" y2="236.10" stroke="#000" stroke-width="1.00"/>
<line x1="371.84" y1="238.70" x2="371.84" y2="236.10" stroke="#000" stroke-width="1.00"/>
<line x1="376.05" y1="238.70" x2="376.05" y2="236.10" stroke="#000" stroke-width="1.00"/>
<line x1="379.77" y1="238.70" x2="379.77" y2="236.10" stroke="#000" stroke-width="1.00"/>
<line x1="383.10" y1="238.70" x2="383.10" y2="236.10" stroke="#000" stroke-width="1.00"/>
<line x1="404.98" y1="238.70" x2="404.98" y2="236.10" stroke="#000" stroke-width="1.00"/>
<line x1="417.79" y1="238.70" x2="417.79" y2="236.10" stroke="#000" stroke-width="1.00"/>
<line x1="426.87" y1="238.70" x2="426.87" y2="236.10" stroke="#000" stroke-width="1.00"/>
<line x1="433.92" y1="238.70" x2="433.92" y2="236.10" stroke="#000" stroke-width="1.00"/>
<line x1="439.67" y1="238.70" x2="439.67" y2="236.10" stroke="#000" stroke-width="1.00"/>
<line x1="444.54" y1="238.70" x2="444.54" y2="236.10" stroke="#000" stroke-width="1.00"/>
<line x1="448.75" y1="238.70" x2="448.75" y2="236.10" stroke="#000" stroke-width="1.00"/>
<line x1="452.47" y1="238.70" x2="452.47" y2="236.10" stroke="#000" stroke-width="1.00"/>
<line x1="455.80" y1="238.70" x2="455.80" y2="236.10" stroke="#000" stroke-width="1.00"/>
<line x1="477.68" y1="238.70" x2="477.68" y2="236.10" stroke="#000" stroke-width="1.00"/>
<line x1="490.49" y1="238.70" x2="490.49" y2="236.10" stroke="#000" stroke-width="1.00"/>
<line x1="499.57" y1="238.70" x2="499.57" y2="236.10" stroke="#000" stroke-width="1.00"/>
<line x1="506.62" y1="238.70" x2="506.62" y2="236.10" stroke="#000" stroke-width="1.00"/>
<line x1="512.37" y1="238.70" x2="512.37" y2="236.10" stroke="#000" stroke-width="1.00"/>
<line x1="517.24" y1="238.70" x2="517.24" y2="236.10" stroke="#000" stroke-width="1.00"/>
<line x1="521.45" y1="238.70" x2="521.45" y2="236.10" stroke="#000" stroke-width="1.00"/>
<line x1="525.17" y1="238.70" x2="525.17" y2="236.10" stroke="#000" stroke-width="1.00"/>
<line x1="532.96" y1="238.70" x2="532.96" y2="236.10" stroke="#000" stroke-width="1.00"/>
<line x1="536.42" y1="238.70" x2="536.42" y2="236.10" stroke="#000" stroke-width="1.00"/>
<line x1="539.34" y1="238.70" x2="539.34" y2="236.10" stroke="#000" stroke-width="1.00"/>
<line x1="541.87" y1="238.70" x2="541.87" y2="236.10" stroke="#000" stroke-width="1.00"/>
<line x1="544.10" y1="238.70" x2="544.10" y2="236.10" stroke="#000" stroke-width="1.00"/>
<line x1="546.10" y1="238.70" x2="546.10" y2="236.10" stroke="#000" stroke-width="1.00"/>
<line x1="559.24" y1="238.70" x2="559.24" y2="236.10" stroke="#000" stroke-width="1.00"/>
<line x1="566.93" y1="238.70" x2="566.93" y2="236.10" stroke="#000" stroke-width="1.00"/>
<line x1="572.38" y1="238.70" x2="572.38" y2="236.10" stroke="#000" stroke-width="1.00"/>
<line x1="576.61" y1="238.70" x2="576.61" y2="236.10" stroke="#000" stroke-width="1.00"/>
<line x1="580.07" y1="238.70" x2="580.07" y2="236.10" stroke="#000" stroke-width="1.00"/>
<line x1="582.99" y1="238.70" x2="582.99" y2="236.10" stroke="#000" stroke-width="1.00"/>
<line x1="585.52" y1="238.70" x2="585.52" y2="236.10" stroke="#000" stroke-width="1.00"/>
<line x1="587.75" y1="238.70" x2="587.75" y2="236.10" stroke="#000" stroke-width="1.00"/>
<line x1="589.75" y1="238.70" x2="589.75" y2="236.10" stroke="#000" stroke-width="1.00"/>
<line x1="602.89" y1="238.70" x2="602.89" y2="236.10" stroke="#000" stroke-width="1.00"/>
<line x1="610.58" y1="238.70" x2="610.58" y2="236.10" stroke="#000" stroke-width="1.00"/>
<line x1="616.03" y1="238.70" x2="616.03" y2="236.10" stroke="#000" stroke-width="1.00"/>
<line x1="620.26" y1="238.70" x2="620.26" y2="236.10" stroke="#000" stroke-width="1.00"/>
<line x1="623.72" y1="238.70" x2="623.72" y2="236.10" stroke="#000" stroke-width="1.00"/>
<line x1="626.64" y1="238.70" x2="626.64" y2="236.10" stroke="#000" stroke-width="1.00"/>
<line x1="629.17" y1="238.70" x2="629.17" y2="236.10" stroke="#000" stroke-width="1.00"/>
<line x1="631.40" y1="238.70" x2="631.40" y2="236.10" stroke="#000" stroke-width="1.00"/>
<line x1="633.40" y1="238.70" x2="633.40" y2="236.10" stroke="#000" stroke-width="1.00"/>
<line x1="646.54" y1="238.70" x2="646.54" y2="236.10" stroke="#000" stroke-width="1.00"/>
<line x1="654.23" y1="238.70" x2="654.23" y2="236.10" stroke="#000" stroke-width="1.00"/>
<line x1="659.68" y1="238.70" x2="659.68" y2="236.10" stroke="#000" stroke-width="1.00"/>
<line x1="663.91" y1="238.70" x2="663.91" y2="236.10" stroke="#000" stroke-width="1.00"/>
<line x1="667.37" y1="238.70" x2="667.37" y2="236.10" stroke="#000" stroke-width="1.00"/>
<line x1="670.29" y1="238.70" x2="670.29" y2="236.10" stroke="#000" stroke-width="1.00"/>
<line x1="672.82" y1="238.70" x2="672.82" y2="236.10" stroke="#000" stroke-width="1.00"/>
<line x1="675.05" y1="238.70" x2="675.05" y2="236.10" stroke="#000" stroke-width="1.00"/>
<line x1="677.05" y1="238.70" x2="677.05" y2="236.10" stroke="#000" stroke-width="1.00"/>
<line x1="690.19" y1="238.70" x2="690.19" y2="236.10" stroke="#000" stroke-width="1.00"/>
<line x1="697.88" y1="238.70" x2="697.88" y2="236.10" stroke="#000" stroke-width="1.00"/>
<line x1="703.33" y1="238.70" x2="703.33" y2="236.10" stroke="#000" stroke-width="1.00"/>
<line x1="707.56" y1="238.70" x2="707.56" y2="236.10" stroke="#000" stroke-width="1.00"/>
<line x1="711.02" y1="238.70" x2="711.02" y2="236.10" stroke="#000" stroke-width="1.00"/>
<line x1="713.94" y1="238.70" x2="713.94" y2="236.10" stroke="#000" stroke-width="1.00"/>
<line x1="716.47" y1="238.70" x2="716.47" y2="236.10" stroke="#000" stroke-width="1.00"/>
<line x1="718.70" y1="238.70" x2="718.70" y2="236.10" stroke="#000" stroke-width="1.00"/>
<line x1="720.70" y1="238.70" x2="720.70" y2="236.10" stroke="#000" stroke-width="1.00"/>
<line x1="733.84" y1="238.70" x2="733.84" y2="236.10" stroke="#000" stroke-width="1.00"/>
<line x1="741.53" y1="238.70" x2="741.53" y2="236.10" stroke="#000" stroke-width="1.00"/>
<line x1="746.98" y1="238.70" x2="746.98" y2="236.10" stroke="#000" stroke-width="1.00"/>
<line x1="751.21" y1="238.70" x2="751.21" y2="236.10" stroke="#000" stroke-width="1.00"/>
<line x1="754.67" y1="238.70" x2="754.67" y2="236.10" stroke="#000" stroke-width="1.00"/>
<line x1="757.59" y1="238.70" x2="757.59" y2="236.10" stroke="#000" stroke-width="1.00"/>
<line x1="66.00" y1="7.05" x2="66.00" y2="9.75" stroke="#000" stroke-width="1.00"/>
<line x1="73.68" y1="7.05" x2="73.68" y2="8.85" stroke="#000" stroke-width="1.00"/>
<line x1="81.36" y1="7.05" x2="81.36" y2="8.85" stroke="#000" stroke-width="1.00"/>
<line x1="89.04" y1="7.05" x2="89.04" y2="8.85" stroke="#000" stroke-width="1.00"/>
<line x1="96.72" y1="7.05" x2="96.72" y2="8.85" stroke="#000" stroke-width="1.00"/>
<line x1="104.40" y1="7.05" x2="104.40" y2="9.75" stroke="#000" stroke-width="1.00"/>
<line x1="112.08" y1="7.05" x2="112.08" y2="8.85" stroke="#000" stroke-width="1.00"/>
<line x1="119.76" y1="7.05" x2="119.76" y2="8.85" stroke="#000" stroke-width="1.00"/>
<line x1="127.44" y1="7.05" x2="127.44" y2="8.85" stroke="#000" stroke-width="1.00"/>
<line x1="135.12" y1="7.05" x2="135.12" y2="8.85" stroke="#000" stroke-width="1.00"/>
<line x1="142.80" y1="7.05" x2="142.80" y2="9.75" stroke="#000" stroke-width="1.00"/>
<line x1="150.48" y1="7.05" x2="150.48" y2="8.85" stroke="#000" stroke-width="1.00"/>
<line x1="158.16" y1="7.05" x2="158.16" y2="8.85" stroke="#000" stroke-width="1.00"/>
<line x1="165.84" y1="7.05" x2="165.84" y2="8.85" stroke="#000" stroke-width="1.00"/>
<line x1="173.52" y1="7.05" x2="173.52" y2="8.85" stroke="#000" stroke-width="1.00"/>
<line x1="181.20" y1="7.05" x2="181.20" y2="9.75" stroke="#000" stroke-width="1.00"/>
<line x1="188.88" y1="7.05" x2="188.88" y2="8.85" stroke="#000" stroke-width="1.00"/>
<line x1="196.56" y1="7.05" x2="196.56" y2="8.85" stroke="#000" stroke-width="1.00"/>
<line x1="204.24" y1="7.05" x2="204.24" y2="8.85" stroke="#000" stroke-width="1.00"/>
<line x1="211.92" y1="7.05" x2="211.92" y2="8.85" stroke="#000" stroke-width="1.00"/>
<line x1="219.60" y1="7.05" x2="219.60" y2="9.75" stroke="#000" stroke-width="1.00"/>
<line x1="227.28" y1="7.05" x2="227.28" y2="8.85" stroke="#000" stroke-width="1.00"/>
<line x1="234.96" y1="7.05" x2="234.96" y2="8.85" stroke="#000" stroke-width="1.00"/>
<line x1="242.64" y1="7.05" x2="242.64" y2="8.85" stroke="#000" stroke-width="1.00"/>
<line x1="250.32" y1="7.05" x2="250.32" y2="8.85" stroke="#000" stroke-width="1.00"/>
<line x1="258.00" y1="7.05" x2="258.00" y2="9.75" stroke="#000" stroke-width="1.00"/>
<line x1="265.68" y1="7.05" x2="265.68" y2="8.85" stroke="#000" stroke-width="1.00"/>
<line x1="273.36" y1="7.05" x2="273.36" y2="8.85" stroke="#000" stroke-width="1.00"/>
<line x1="281.04" y1="7.05" x2="281.04" y2="8.85" stroke="#000" stroke-width="1.00"/>
<line x1="288.72" y1="7.05" x2="288.72" y2="8.85" stroke="#000" stroke-width="1.00"/>
<line x1="295.86" y1="6.60" x2="295.86" y2="8.40" stroke="#000" stroke-width="1.00"/>
<line x1="303.13" y1="6.60" x2="303.13" y2="8.40" stroke="#000" stroke-width="1.00"/>
<line x1="310.40" y1="6.60" x2="310.40" y2="9.30" stroke="#000" stroke-width="1.00"/>
<line x1="317.67" y1="6.60" x2="317.67" y2="8.40" stroke="#000" stroke-width="1.00"/>
<line x1="324.94" y1="6.60" x2="324.94" y2="8.40" stroke="#000" stroke-width="1.00"/>
<line x1="332.21" y1="6.60" x2="332.21" y2="8.40" stroke="#000" stroke-width="1.00"/>
<line x1="339.48" y1="6.60" x2="339.48" y2="8.40" stroke="#000" stroke-width="1.00"/>
<line x1="346.75" y1="6.60" x2="346.75" y2="9.30" stroke="#000" stroke-width="1.00"/>
<line x1="354.02" y1="6.60" x2="354.02" y2="8.40" stroke="#000" stroke-width="1.00"/>
<line x1="361.29" y1="6.60" x2="361.29" y2="8.40" stroke="#000" stroke-width="1.00"/>
<line x1="368.56" y1="6.60" x2="368.56" y2="8.40" stroke="#000" stroke-width="1.00"/>
<line x1="375.83" y1="6.60" x2="375.83" y2="8.40" stroke="#000" stroke-width="1.00"/>
<line x1="383.10" y1="6.60" x2="383.10" y2="9.30" stroke="#000" stroke-width="1.00"/>
<line x1="390.37" y1="6.60" x2="390.37" y2="8.40" stroke="#000" stroke-width="1.00"/>
<line x1="397.64" y1="6.60" x2="397.64" y2="8.40" stroke="#000" stroke-width="1.00"/>
<line x1="404.91" y1="6.60" x2="404.91" y2="8.40" stroke="#000" stroke-width="1.00"/>
<line x1="412.18" y1="6.60" x2="412.18" y2="8.40" stroke="#000" stroke-width="1.00"/>
<line x1="419.45" y1="6.60" x2="419.45" y2="9.30" stroke="#000" stroke-width="1.00"/>
<line x1="426.72" y1="6.60" x2="426.72" y2="8.40" stroke="#000" stroke-width="1.00"/>
<line x1="433.99" y1="6.60" x2="433.99" y2="8.40" stroke="#000" stroke-width="1.00"/>
<line x1="441.26" y1="6.60" x2="441.26" y2="8.40" stroke="#000" stroke-width="1.00"/>
<line x1="448.53" y1="6.60" x2="448.53" y2="8.40" stroke="#000" stroke-width="1.00"/>
<line x1="455.80" y1="6.60" x2="455.80" y2="9.30" stroke="#000" stroke-width="1.00"/>
<line x1="463.07" y1="6.60" x2="463.07" y2="8.40" stroke="#000" stroke-width="1.00"/>
<line x1="470.34" y1="6.60" x2="470.34" y2="8.40" stroke="#000" stroke-width="1.00"/>
<line x1="477.61" y1="6.60" x2="477.61" y2="8.40" stroke="#000" stroke-width="1.00"/>
<line x1="484.88" y1="6.60" x2="484.88" y2="8.40" stroke="#000" stroke-width="1.00"/>
<line x1="492.15" y1="6.60" x2="492.15" y2="9.30" stroke="#000" stroke-width="1.00"/>
<line x1="499.42" y1="6.60" x2="499.42" y2="8.40" stroke="#000" stroke-width="1.00"/>
<line x1="506.69" y1="6.60" x2="506.69" y2="8.40" stroke="#000" stroke-width="1.00"/>
<line x1="513.96" y1="6.60" x2="513.96" y2="8.40" stroke="#000" stroke-width="1.00"/>
<line x1="521.23" y1="6.60" x2="521.23" y2="8.40" stroke="#000" stroke-width="1.00"/>
<line x1="537.37" y1="7.00" x2="537.37" y2="8.80" stroke="#000" stroke-width="1.00"/>
<line x1="546.10" y1="7.00" x2="546.10" y2="9.70" stroke="#000" stroke-width="1.00"/>
<line x1="554.83" y1="7.00" x2="554.83" y2="8.80" stroke="#000" stroke-width="1.00"/>
<line x1="563.56" y1="7.00" x2="563.56" y2="8.80" stroke="#000" stroke-width="1.00"/>
<line x1="572.29" y1="7.00" x2="572.29" y2="8.80" stroke="#000" stroke-width="1.00"/>
<line x1="581.02" y1="7.00" x2="581.02" y2="8.80" stroke="#000" stroke-width="1.00"/>
<line x1="589.75" y1="7.00" x2="589.75" y2="9.70" stroke="#000" stroke-width="1.00"/>
<line x1="598.48" y1="7.00" x2="598.48" y2="8.80" stroke="#000" stroke-width="1.00"/>
<line x1="607.21" y1="7.00" x2="607.21" y2="8.80" stroke="#000" stroke-width="1.00"/>
<line x1="615.94" y1="7.00" x2="615.94" y2="8.80" stroke="#000" stroke-width="1.00"/>
<line x1="624.67" y1="7.00" x2="624.67" y2="8.80" stroke="#000" stroke-width="1.00"/>
<line x1="633.40" y1="7.00" x2="633.40" y2="9.70" stroke="#000" stroke-width="1.00"/>
<line x1="642.13" y1="7.00" x2="642.13" y2="8.80" stroke="#000" stroke-width="1.00"/>
<line x1="650.86" y1="7.00" x2="650.86" y2="8.80" stroke="#000" stroke-width="1.00"/>
<line x1="659.59" y1="7.00" x2="659.59" y2="8.80" stroke="#000" stroke-width="1.00"/>
<line x1="668.32" y1="7.00" x2="668.32" y2="8.80" stroke="#000" stroke-width="1.00"/>
<line x1="677.05" y1="7.00" x2="677.05" y2="9.70" stroke="#000" stroke-width="1.00"/>
<line x1="685.78" y1="7.00" x2="685.78" y2="8.80" stroke="#000" stroke-width="1.00"/>
<line x1="694.51" y1="7.00" x2="694.51" y2="8.80" stroke="#000" stroke-width="1.00"/>
<line x1="703.24" y1="7.00" x2="703.24" y2="8.80" stroke="#000" stroke-width="1.00"/>
<line x1="711.97" y1="7.00" x2="711.97" y2="8.80" stroke="#000" stroke-width="1.00"/>
<line x1="720.70" y1="7.00" x2="720.70" y2="9.70" stroke="#000" stroke-width="1.00"/>
<line x1="729.43" y1="7.00" x2="729.43" y2="8.80" stroke="#000" stroke-width="1.00"/>
<line x1="738.16" y1="7.00" x2="738.16" y2="8.80" stroke="#000" stroke-width="1.00"/>
<line x1="746.89" y1="7.00" x2="746.89" y2="8.80" stroke="#000" stroke-width="1.00"/>
<line x1="755.62" y1="7.00" x2="755.62" y2="8.80" stroke="#000" stroke-width="1.00"/>
<rect x="562.5" y="180.5" width="67.2" height="55.3" fill="#fff" stroke="#6a6a6a" stroke-width="1.0"/>
<line x1="564.60" y1="189.15" x2="573.80" y2="189.15" stroke="#ff0000" stroke-width="1.50"/>
<text x="577.2" y="190.20" font-size="11.85" >L=0.6 km</text>
<line x1="564.60" y1="207.70" x2="573.80" y2="207.70" stroke="#0000ff" stroke-width="1.50"/>
<text x="577.2" y="208.65" font-size="11.85" >L=1.5 km</text>
<line x1="564.60" y1="226.25" x2="573.80" y2="226.25" stroke="#00aa00" stroke-width="1.50"/>
<text x="577.2" y="227.10" font-size="11.85" >L=2.4 km</text>
<text transform="translate(196.20 112.20) rotate(27.00)" font-size="11.70">L=0.6 km</text>
<text transform="translate(184.50 131.80) rotate(27.00)" font-size="11.70">L=1.5 km</text>
<text transform="translate(173.30 159.70) rotate(30.00)" font-size="11.70">L=2.4 km</text>
<text transform="translate(410.70 110.50) rotate(30.30)" font-size="11.70">L=0.6 km</text>
<text transform="translate(397.20 132.30) rotate(30.30)" font-size="11.70">L=1.5 km</text>
<text transform="translate(382.00 164.20) rotate(31.00)" font-size="11.70">L=2.4 km</text>
<text x="60.40" y="14.30" font-size="16.30" text-anchor="end">10</text>
<text x="58.60" y="90.60" font-size="16.30" text-anchor="end">1</text>
<text x="58.60" y="167.90" font-size="16.30" text-anchor="end">10<tspan font-size="11.30" dy="-6.3" dx="-0.2">−1</tspan></text>
<text x="762.30" y="12.70" font-size="16.30" text-anchor="start">10</text>
<text x="762.30" y="89.70" font-size="16.30" text-anchor="start">1</text>
<text x="762.30" y="167.00" font-size="16.30" text-anchor="start">10<tspan font-size="11.30" dy="-6.3" dx="-0.2">−1</tspan></text>
<text x="762.30" y="244.30" font-size="16.30" text-anchor="start">10<tspan font-size="11.30" dy="-6.3" dx="-0.2">−2</tspan></text>
<text x="66.80" y="256.50" font-size="16.30" text-anchor="middle">10<tspan font-size="11.30" dy="-6.3" dx="-0.2">−3</tspan></text>
<text x="142.30" y="256.50" font-size="16.30" text-anchor="middle">10<tspan font-size="11.30" dy="-6.3" dx="-0.2">−2</tspan></text>
<text x="219.10" y="256.50" font-size="16.30" text-anchor="middle">10<tspan font-size="11.30" dy="-6.3" dx="-0.2">−1</tspan></text>
<text x="310.70" y="256.50" font-size="16.30" text-anchor="middle">10<tspan font-size="11.30" dy="-6.3" dx="-0.2">−3</tspan></text>
<text x="383.10" y="256.50" font-size="16.30" text-anchor="middle">10<tspan font-size="11.30" dy="-6.3" dx="-0.2">−2</tspan></text>
<text x="455.80" y="256.50" font-size="16.30" text-anchor="middle">10<tspan font-size="11.30" dy="-6.3" dx="-0.2">−1</tspan></text>
<text x="545.80" y="256.50" font-size="16.30" text-anchor="middle">10<tspan font-size="11.30" dy="-6.3" dx="-0.2">−5</tspan></text>
<text x="589.75" y="256.50" font-size="16.30" text-anchor="middle">10<tspan font-size="11.30" dy="-6.3" dx="-0.2">−4</tspan></text>
<text x="633.40" y="256.50" font-size="16.30" text-anchor="middle">10<tspan font-size="11.30" dy="-6.3" dx="-0.2">−3</tspan></text>
<text x="677.05" y="256.50" font-size="16.30" text-anchor="middle">10<tspan font-size="11.30" dy="-6.3" dx="-0.2">−2</tspan></text>
<text x="720.70" y="256.50" font-size="16.30" text-anchor="middle">10<tspan font-size="11.30" dy="-6.3" dx="-0.2">−1</tspan></text>
<text x="177.50" y="281" font-size="16.70" text-anchor="middle">sin<tspan font-size="11.30" dy="-6.6" dx="0.6">2</tspan><tspan dy="6.6" dx="1.5" font-style="italic">θ</tspan><tspan font-size="11.30" dy="2.9" dx="0.3" >14</tspan></text>
<text x="411.00" y="281" font-size="16.70" text-anchor="middle">sin<tspan font-size="11.30" dy="-6.6" dx="0.6">2</tspan><tspan dy="6.6" dx="1.5" font-style="italic">θ</tspan><tspan font-size="11.30" dy="2.9" dx="0.3" >24</tspan></text>
<text x="644.0" y="281" font-size="16.70" text-anchor="middle">sin<tspan font-size="11.30" dy="-6.6" dx="0.6">2</tspan><tspan dy="6.6" dx="0.3">2</tspan><tspan font-style="italic" dx="0.9">θ</tspan><tspan font-size="11.3" dy="3.0" dx="0.2" font-style="italic">μ</tspan><tspan font-size="11.3">e</tspan></text>
<text transform="translate(19.4 167.0) rotate(-90)" font-size="16.70">Δm<tspan font-size="11.30" dy="3.1" dx="0.3">41</tspan><tspan font-size="11.30" dy="-10.5" dx="1.2">2</tspan><tspan dy="7.4" dx="0"> [eV</tspan><tspan font-size="11.30" dy="-6.8" dx="0.4">2</tspan><tspan dy="6.8">]</tspan></text>
</svg>
</body></html>
